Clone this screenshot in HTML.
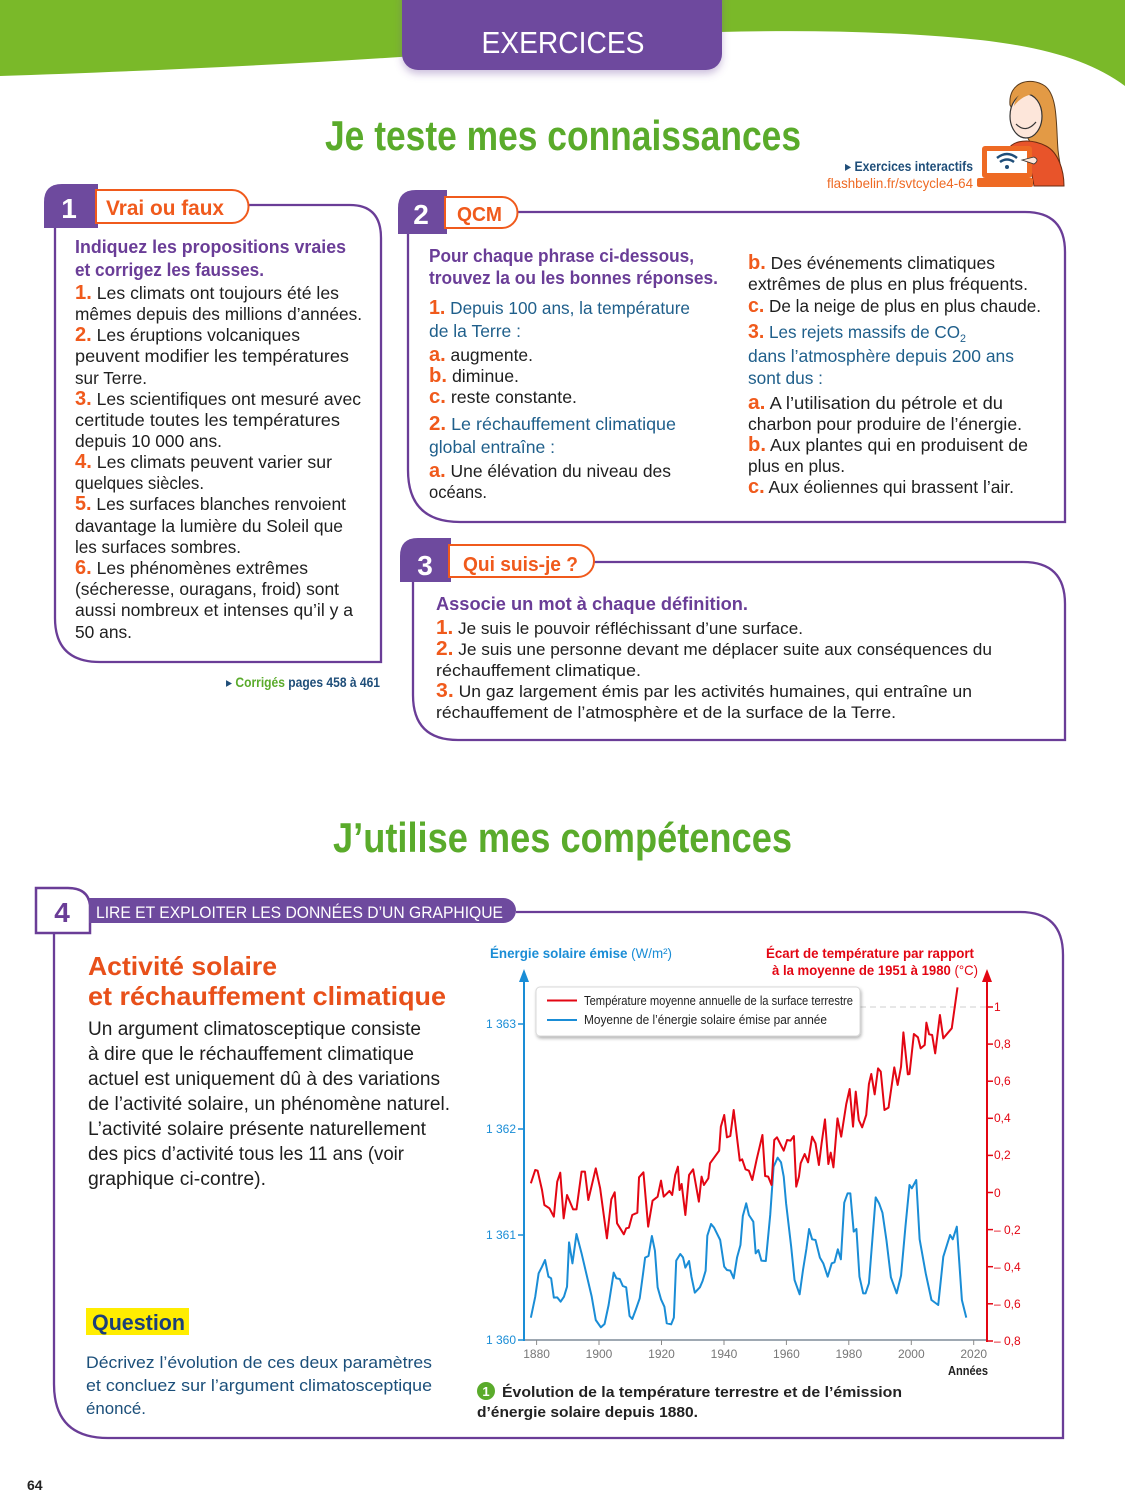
<!DOCTYPE html>
<html><head><meta charset="utf-8">
<style>
html,body{margin:0;padding:0;background:#fff;}
svg{display:block;}
text{font-family:"Liberation Sans","DejaVu Sans",sans-serif;}
.b{font-size:17.5px;fill:#1e1e1e;}
.n{fill:#f05a1c;font-weight:bold;font-size:20px;}
.p{fill:#6a3d97;font-weight:bold;font-size:18.5px;}
.q{fill:#1f5f8b;font-size:17.5px;}
.c{font-size:16.5px;fill:#1e1e1e;}
.t4{font-size:19px;fill:#1e1e1e;}
.lg{font-size:12.5px;fill:#222;}
.yl{font-size:12px;fill:#777;}
.ll{font-size:12px;fill:#1a8dd6;}
.rl{font-size:12px;fill:#e30613;}
</style></head>
<body>
<svg width="1125" height="1500" viewBox="0 0 1125 1500" xmlns="http://www.w3.org/2000/svg">
<defs>
<filter id="sh" x="-20%" y="-20%" width="140%" height="160%">
<feDropShadow dx="0" dy="4" stdDeviation="4" flood-color="#6e4a9e" flood-opacity="0.35"/>
</filter>
<filter id="sh2" x="-10%" y="-20%" width="120%" height="160%">
<feDropShadow dx="1" dy="2" stdDeviation="1.5" flood-color="#000" flood-opacity="0.3"/>
</filter>
</defs>

<!-- green header -->
<path d="M0,0 H1125 V86 C1090,60 1040,45 960,38 C880,31 800,30 720,32 L400,57 C260,66 120,72 0,76 Z" fill="#7ab929"/>
<!-- purple tab -->
<rect x="402" y="-20" width="320" height="90" rx="16" fill="#6e4a9e" filter="url(#sh)"/>
<text x="563" y="53" text-anchor="middle" font-size="31" fill="#fff" textLength="163" lengthAdjust="spacingAndGlyphs">EXERCICES</text>

<!-- title 1 -->
<text x="325" y="150" font-size="42" font-weight="bold" fill="#5aab2b" textLength="476" lengthAdjust="spacingAndGlyphs">Je teste mes connaissances</text>

<!-- interactive -->
<text x="973" y="171" text-anchor="end" font-size="14" font-weight="bold" fill="#1f4e79" textLength="128" lengthAdjust="spacingAndGlyphs">▸ Exercices interactifs</text>
<text x="973" y="188" text-anchor="end" font-size="14" fill="#ee6a24" textLength="146" lengthAdjust="spacingAndGlyphs">flashbelin.fr/svtcycle4-64</text>

<!-- girl illustration -->
<path d="M1010,105 C1008,82 1030,76 1045,86 C1058,96 1056,125 1058,150 C1060,168 1064,178 1060,184 L1040,184 C1042,160 1040,140 1030,142 Z" fill="#e39a45" stroke="#5a3a1a" stroke-width="1"/>
<ellipse cx="1026" cy="116" rx="16" ry="22" fill="#fde6da" stroke="#333" stroke-width="1.2"/>
<path d="M1014,106 C1016,90 1036,84 1046,96 C1040,92 1024,92 1014,106 Z" fill="#e39a45"/>
<path d="M1016,124 Q1026,134 1036,122" fill="none" stroke="#333" stroke-width="1.2"/>
<path d="M1008,150 C1012,140 1030,138 1046,146 C1058,152 1064,170 1064,186 L1034,186 L1030,165 Z" fill="#e8542a" stroke="#6a2a10" stroke-width="1"/>
<rect x="982" y="146" width="50" height="32" rx="3" fill="#ee6a24"/>
<rect x="987" y="151" width="40" height="22" fill="#fff"/>
<rect x="977" y="178" width="56" height="9" rx="2" fill="#ee6a24"/>
<path d="M997,158 Q1007,150 1017,158" fill="none" stroke="#1f4e79" stroke-width="2.5"/>
<path d="M1000,162 Q1007,157 1014,162" fill="none" stroke="#1f4e79" stroke-width="2.5"/>
<circle cx="1007" cy="167" r="2" fill="#1f4e79"/>
<path d="M1022,160 L1034,157 Q1040,160 1034,164 Z" fill="#fde6da" stroke="#333" stroke-width="0.8"/>

<!-- BOX 1 -->
<path d="M248,205 H350 Q381,205 381,238 V662 H100 Q55,662 55,618 V228" fill="none" stroke="#6a3d97" stroke-width="2.3"/>
<path d="M44,228 V202 Q44,184 62,184 H98 V228 Z" fill="#6e4a9e"/>
<path d="M96,190 H232 A16.5,16.5 0 0 1 232,223 H96 Z" fill="#fff" stroke="#f05a1c" stroke-width="2"/>
<text x="69" y="218" text-anchor="middle" font-size="28" font-weight="bold" fill="#fff">1</text>
<text x="106" y="215" font-size="21" font-weight="bold" fill="#f05a1c" textLength="118" lengthAdjust="spacingAndGlyphs">Vrai ou faux</text>

<text x="75" y="253" class="p" textLength="271" lengthAdjust="spacingAndGlyphs">Indiquez les propositions vraies</text>
<text x="75" y="276" class="p" textLength="189" lengthAdjust="spacingAndGlyphs">et corrigez les fausses.</text>
<text x="75" y="299" class="b" textLength="264" lengthAdjust="spacingAndGlyphs"><tspan class="n">1.</tspan> Les climats ont toujours été les</text>
<text x="75" y="320" class="b" textLength="287" lengthAdjust="spacingAndGlyphs">mêmes depuis des millions d’années.</text>
<text x="75" y="341" class="b" textLength="225" lengthAdjust="spacingAndGlyphs"><tspan class="n">2.</tspan> Les éruptions volcaniques</text>
<text x="75" y="362" class="b" textLength="274" lengthAdjust="spacingAndGlyphs">peuvent modifier les températures</text>
<text x="75" y="384" class="b" textLength="72" lengthAdjust="spacingAndGlyphs">sur Terre.</text>
<text x="75" y="405" class="b" textLength="286" lengthAdjust="spacingAndGlyphs"><tspan class="n">3.</tspan> Les scientifiques ont mesuré avec</text>
<text x="75" y="426" class="b" textLength="265" lengthAdjust="spacingAndGlyphs">certitude toutes les températures</text>
<text x="75" y="447" class="b" textLength="147" lengthAdjust="spacingAndGlyphs">depuis 10 000 ans.</text>
<text x="75" y="468" class="b" textLength="257" lengthAdjust="spacingAndGlyphs"><tspan class="n">4.</tspan> Les climats peuvent varier sur</text>
<text x="75" y="489" class="b" textLength="129" lengthAdjust="spacingAndGlyphs">quelques siècles.</text>
<text x="75" y="510" class="b" textLength="271" lengthAdjust="spacingAndGlyphs"><tspan class="n">5.</tspan> Les surfaces blanches renvoient</text>
<text x="75" y="532" class="b" textLength="268" lengthAdjust="spacingAndGlyphs">davantage la lumière du Soleil que</text>
<text x="75" y="553" class="b" textLength="166" lengthAdjust="spacingAndGlyphs">les surfaces sombres.</text>
<text x="75" y="574" class="b" textLength="233" lengthAdjust="spacingAndGlyphs"><tspan class="n">6.</tspan> Les phénomènes extrêmes</text>
<text x="75" y="595" class="b" textLength="264" lengthAdjust="spacingAndGlyphs">(sécheresse, ouragans, froid) sont</text>
<text x="75" y="616" class="b" textLength="278" lengthAdjust="spacingAndGlyphs">aussi nombreux et intenses qu’il y a</text>
<text x="75" y="638" class="b" textLength="57" lengthAdjust="spacingAndGlyphs">50 ans.</text>

<text x="226" y="687" font-size="13.5" font-weight="bold" fill="#1f4e79" textLength="154" lengthAdjust="spacingAndGlyphs">▸ <tspan fill="#5aab2b">Corrigés</tspan> pages 458 à 461</text>

<!-- BOX 2 -->
<path d="M517,212 H1025 Q1065,212 1065,252 V522 H460 Q408,522 408,470 V234" fill="none" stroke="#6a3d97" stroke-width="2.3"/>
<path d="M398,234 V208 Q398,190 416,190 H447 V234 Z" fill="#6e4a9e"/>
<path d="M445,197 H502 A15.5,15.5 0 0 1 502,228 H445 Z" fill="#fff" stroke="#f05a1c" stroke-width="2"/>
<text x="421" y="224" text-anchor="middle" font-size="28" font-weight="bold" fill="#fff">2</text>
<text x="457" y="221" font-size="20" font-weight="bold" fill="#f05a1c" textLength="45" lengthAdjust="spacingAndGlyphs">QCM</text>

<text x="429" y="262" class="p" textLength="265" lengthAdjust="spacingAndGlyphs">Pour chaque phrase ci-dessous,</text>
<text x="429" y="284" class="p" textLength="289" lengthAdjust="spacingAndGlyphs">trouvez la ou les bonnes réponses.</text>
<text x="429" y="314" class="q" textLength="261" lengthAdjust="spacingAndGlyphs"><tspan class="n">1.</tspan> Depuis 100 ans, la température</text>
<text x="429" y="337" class="q" textLength="92" lengthAdjust="spacingAndGlyphs">de la Terre :</text>
<text x="429" y="361" class="b" textLength="104" lengthAdjust="spacingAndGlyphs"><tspan class="n">a.</tspan> augmente.</text>
<text x="429" y="382" class="b" textLength="90" lengthAdjust="spacingAndGlyphs"><tspan class="n">b.</tspan> diminue.</text>
<text x="429" y="403" class="b" textLength="148" lengthAdjust="spacingAndGlyphs"><tspan class="n">c.</tspan> reste constante.</text>
<text x="429" y="430" class="q" textLength="247" lengthAdjust="spacingAndGlyphs"><tspan class="n">2.</tspan> Le réchauffement climatique</text>
<text x="429" y="453" class="q" textLength="126" lengthAdjust="spacingAndGlyphs">global entraîne :</text>
<text x="429" y="477" class="b" textLength="242" lengthAdjust="spacingAndGlyphs"><tspan class="n">a.</tspan> Une élévation du niveau des</text>
<text x="429" y="498" class="b" textLength="58" lengthAdjust="spacingAndGlyphs">océans.</text>

<text x="748" y="269" class="b" textLength="247" lengthAdjust="spacingAndGlyphs"><tspan class="n">b.</tspan> Des événements climatiques</text>
<text x="748" y="290" class="b" textLength="280" lengthAdjust="spacingAndGlyphs">extrêmes de plus en plus fréquents.</text>
<text x="748" y="312" class="b" textLength="293" lengthAdjust="spacingAndGlyphs"><tspan class="n">c.</tspan> De la neige de plus en plus chaude.</text>
<text x="748" y="338" class="q" textLength="218" lengthAdjust="spacingAndGlyphs"><tspan class="n">3.</tspan> Les rejets massifs de CO<tspan font-size="11" dy="4">2</tspan></text>
<text x="748" y="362" class="q" textLength="266" lengthAdjust="spacingAndGlyphs">dans l’atmosphère depuis 200 ans</text>
<text x="748" y="384" class="q" textLength="75" lengthAdjust="spacingAndGlyphs">sont dus :</text>
<text x="748" y="409" class="b" textLength="255" lengthAdjust="spacingAndGlyphs"><tspan class="n">a.</tspan> A l’utilisation du pétrole et du</text>
<text x="748" y="430" class="b" textLength="274" lengthAdjust="spacingAndGlyphs">charbon pour produire de l’énergie.</text>
<text x="748" y="451" class="b" textLength="280" lengthAdjust="spacingAndGlyphs"><tspan class="n">b.</tspan> Aux plantes qui en produisent de</text>
<text x="748" y="472" class="b" textLength="97" lengthAdjust="spacingAndGlyphs">plus en plus.</text>
<text x="748" y="493" class="b" textLength="266" lengthAdjust="spacingAndGlyphs"><tspan class="n">c.</tspan> Aux éoliennes qui brassent l’air.</text>

<!-- BOX 3 -->
<path d="M592,562 H1023 Q1065,562 1065,604 V740 H458 Q413,740 413,695 V582" fill="none" stroke="#6a3d97" stroke-width="2.3"/>
<path d="M400,582 V556 Q400,538 418,538 H451 V582 Z" fill="#6e4a9e"/>
<path d="M449,545 H578 A16,16 0 0 1 578,577 H449 Z" fill="#fff" stroke="#f05a1c" stroke-width="2"/>
<text x="425" y="575" text-anchor="middle" font-size="28" font-weight="bold" fill="#fff">3</text>
<text x="463" y="571" font-size="20" font-weight="bold" fill="#f05a1c" textLength="115" lengthAdjust="spacingAndGlyphs">Qui suis-je ?</text>

<text x="436" y="610" class="p" textLength="312" lengthAdjust="spacingAndGlyphs">Associe un mot à chaque définition.</text>
<text x="436" y="634" class="c" textLength="367" lengthAdjust="spacingAndGlyphs"><tspan class="n">1.</tspan> Je suis le pouvoir réfléchissant d’une surface.</text>
<text x="436" y="655" class="c" textLength="556" lengthAdjust="spacingAndGlyphs"><tspan class="n">2.</tspan> Je suis une personne devant me déplacer suite aux conséquences du</text>
<text x="436" y="676" class="c" textLength="205" lengthAdjust="spacingAndGlyphs">réchauffement climatique.</text>
<text x="436" y="697" class="c" textLength="536" lengthAdjust="spacingAndGlyphs"><tspan class="n">3.</tspan> Un gaz largement émis par les activités humaines, qui entraîne un</text>
<text x="436" y="718" class="c" textLength="460" lengthAdjust="spacingAndGlyphs">réchauffement de l’atmosphère et de la surface de la Terre.</text>

<!-- title 2 -->
<text x="333" y="852" font-size="42" font-weight="bold" fill="#5aab2b" textLength="459" lengthAdjust="spacingAndGlyphs">J’utilise mes compétences</text>

<!-- BOX 4 -->
<path d="M516,912 H1020 Q1063,912 1063,955 V1438 H108 Q54,1438 54,1384 V933" fill="none" stroke="#6a3d97" stroke-width="2.3"/>
<path d="M36,933 V888 H68 Q88,888 90,905 V933 Z" fill="#fff" stroke="#6a3d97" stroke-width="2.5"/>
<path d="M89,898 H503.5 A12.5,12.5 0 0 1 503.5,923 H89 Z" fill="#6e4a9e"/>
<text x="62" y="922" text-anchor="middle" font-size="28" font-weight="bold" fill="#6a3d97">4</text>
<text x="96" y="918" font-size="17" fill="#fff" textLength="407" lengthAdjust="spacingAndGlyphs">LIRE ET EXPLOITER LES DONNÉES D’UN GRAPHIQUE</text>

<text x="88" y="975" font-size="26" font-weight="bold" fill="#e8501a" textLength="189" lengthAdjust="spacingAndGlyphs">Activité solaire</text>
<text x="88" y="1005" font-size="26" font-weight="bold" fill="#e8501a" textLength="358" lengthAdjust="spacingAndGlyphs">et réchauffement climatique</text>
<text x="88" y="1035" class="t4" textLength="333" lengthAdjust="spacingAndGlyphs">Un argument climatosceptique consiste</text>
<text x="88" y="1060" class="t4" textLength="326" lengthAdjust="spacingAndGlyphs">à dire que le réchauffement climatique</text>
<text x="88" y="1085" class="t4" textLength="352" lengthAdjust="spacingAndGlyphs">actuel est uniquement dû à des variations</text>
<text x="88" y="1110" class="t4" textLength="362" lengthAdjust="spacingAndGlyphs">de l’activité solaire, un phénomène naturel.</text>
<text x="88" y="1135" class="t4" textLength="338" lengthAdjust="spacingAndGlyphs">L’activité solaire présente naturellement</text>
<text x="88" y="1160" class="t4" textLength="316" lengthAdjust="spacingAndGlyphs">des pics d’activité tous les 11 ans (voir</text>
<text x="88" y="1185" class="t4" textLength="178" lengthAdjust="spacingAndGlyphs">graphique ci-contre).</text>

<rect x="86" y="1308" width="103" height="27" fill="#ffed00"/>
<text x="92" y="1330" font-size="22" font-weight="bold" fill="#1b3f7a" textLength="93" lengthAdjust="spacingAndGlyphs">Question</text>
<text x="86" y="1368" font-size="17" fill="#1b4f7a" textLength="346" lengthAdjust="spacingAndGlyphs">Décrivez l’évolution de ces deux paramètres</text>
<text x="86" y="1391" font-size="17" fill="#1b4f7a" textLength="346" lengthAdjust="spacingAndGlyphs">et concluez sur l’argument climatosceptique</text>
<text x="86" y="1414" font-size="17" fill="#1b4f7a" textLength="60" lengthAdjust="spacingAndGlyphs">énoncé.</text>

<!-- CHART -->
<text x="490" y="958" font-size="14" fill="#1a8dd6" textLength="182" lengthAdjust="spacingAndGlyphs"><tspan font-weight="bold">Énergie solaire émise</tspan> (W/m²)</text>
<text x="974" y="958" text-anchor="end" font-size="14" font-weight="bold" fill="#e30613" textLength="208" lengthAdjust="spacingAndGlyphs">Écart de température par rapport</text>
<text x="772" y="975" font-size="14" fill="#e30613" textLength="206" lengthAdjust="spacingAndGlyphs"><tspan font-weight="bold">à la moyenne de 1951 à 1980</tspan> (°C)</text>

<!-- dashed ref line -->
<line x1="860" y1="1007" x2="987" y2="1007" stroke="#cfcfcf" stroke-width="1" stroke-dasharray="6 4"/>

<!-- bottom axis -->
<line x1="524" y1="1340" x2="987" y2="1340" stroke="#7f8c99" stroke-width="1.5"/>
<g stroke="#8a8a8a" stroke-width="1">
<line x1="536.6" y1="1340" x2="536.6" y2="1345"/>
<line x1="599" y1="1340" x2="599" y2="1345"/>
<line x1="661.5" y1="1340" x2="661.5" y2="1345"/>
<line x1="724" y1="1340" x2="724" y2="1345"/>
<line x1="786.4" y1="1340" x2="786.4" y2="1345"/>
<line x1="848.8" y1="1340" x2="848.8" y2="1345"/>
<line x1="911.3" y1="1340" x2="911.3" y2="1345"/>
<line x1="973.7" y1="1340" x2="973.7" y2="1345"/>
</g>
<g class="yl" text-anchor="middle">
<text x="536.6" y="1358" class="yl">1880</text>
<text x="599" y="1358" class="yl">1900</text>
<text x="661.5" y="1358" class="yl">1920</text>
<text x="724" y="1358" class="yl">1940</text>
<text x="786.4" y="1358" class="yl">1960</text>
<text x="848.8" y="1358" class="yl">1980</text>
<text x="911.3" y="1358" class="yl">2000</text>
<text x="973.7" y="1358" class="yl">2020</text>
</g>
<text x="948" y="1375" font-size="12.5" font-weight="bold" fill="#222" textLength="40" lengthAdjust="spacingAndGlyphs">Années</text>

<!-- left axis -->
<line x1="524" y1="978" x2="524" y2="1341" stroke="#1a8dd6" stroke-width="2"/>
<path d="M519,982 L529,982 L524,969 Z" fill="#1a8dd6"/>
<g stroke="#1a8dd6" stroke-width="1.5">
<line x1="518" y1="1024" x2="524" y2="1024"/>
<line x1="518" y1="1129" x2="524" y2="1129"/>
<line x1="518" y1="1235" x2="524" y2="1235"/>
<line x1="518" y1="1340" x2="524" y2="1340"/>
</g>
<g text-anchor="end">
<text x="516" y="1028" class="ll">1 363</text>
<text x="516" y="1133" class="ll">1 362</text>
<text x="516" y="1239" class="ll">1 361</text>
<text x="516" y="1344" class="ll">1 360</text>
</g>

<!-- right axis -->
<line x1="987" y1="978" x2="987" y2="1342" stroke="#e30613" stroke-width="2"/>
<path d="M982,982 L992,982 L987,969 Z" fill="#e30613"/>
<g stroke="#e30613" stroke-width="1.5">
<line x1="987" y1="1007" x2="993" y2="1007"/>
<line x1="987" y1="1044.1" x2="993" y2="1044.1"/>
<line x1="987" y1="1081.2" x2="993" y2="1081.2"/>
<line x1="987" y1="1118.3" x2="993" y2="1118.3"/>
<line x1="987" y1="1155.4" x2="993" y2="1155.4"/>
<line x1="987" y1="1192.5" x2="993" y2="1192.5"/>
<line x1="987" y1="1229.6" x2="993" y2="1229.6"/>
<line x1="987" y1="1266.7" x2="993" y2="1266.7"/>
<line x1="987" y1="1303.8" x2="993" y2="1303.8"/>
<line x1="987" y1="1341" x2="993" y2="1341"/>
</g>
<text x="994" y="1011" class="rl">1</text>
<text x="994" y="1048" class="rl">0,8</text>
<text x="994" y="1085" class="rl">0,6</text>
<text x="994" y="1122" class="rl">0,4</text>
<text x="994" y="1159" class="rl">0,2</text>
<text x="994" y="1197" class="rl">0</text>
<text x="994" y="1234" class="rl">– 0,2</text>
<text x="994" y="1271" class="rl">– 0,4</text>
<text x="994" y="1308" class="rl">– 0,6</text>
<text x="994" y="1345" class="rl">– 0,8</text>

<!-- series -->
<g transform="matrix(0.33807,0,0,0.33333,470,930)" fill="none" stroke-linejoin="round">
<polyline vector-effect="non-scaling-stroke" stroke="#1a8dd6" stroke-width="2" points="180,1163 193,1100 203,1030 213,1010 222,990 232,1040 240,1045 248,1103 258,1102 268,1115 278,1100 287,1070 293,937 303,1000 315,912 330,970 345,1035 360,1100 372,1170 387,1192 398,1182 410,1125 425,1028 433,1045 443,1047 452,1068 462,1072 472,1158 480,1167 490,1140 502,1105 512,1030 518,983 528,978 538,918 547,962 555,1072 565,1108 575,1130 582,1180 595,1183 603,1163 610,992 622,972 630,982 637,1013 648,993 655,1040 665,1088 680,1072 688,1053 697,1022 702,917 713,882 722,893 740,930 752,1010 760,1020 770,1022 780,1045 790,982 800,945 807,858 817,820 825,855 838,875 845,970 853,960 862,992 875,993 888,855 898,710 910,683 920,697 928,740 935,820 950,950 960,1050 975,1093 985,1020 995,957 1003,897 1012,928 1022,930 1035,983 1045,1000 1058,1040 1070,1000 1078,997 1088,958 1097,988 1107,818 1117,790 1125,790 1135,905 1143,897 1152,1040 1163,1090 1170,1090 1180,1060 1200,802 1210,820 1220,848 1232,932 1245,1042 1262,1090 1275,1037 1288,890 1300,765 1307,775 1320,750 1330,928 1348,1030 1365,1110 1385,1125 1400,980 1420,915 1428,928 1440,890 1455,1110 1468,1163"/>
<polyline vector-effect="non-scaling-stroke" stroke="#e30613" stroke-width="2" points="180,760 193,720 200,722 213,780 220,825 235,835 248,860 258,755 267,728 277,865 287,795 305,838 315,838 330,725 340,725 350,810 372,715 385,775 405,925 418,808 428,787 435,880 455,913 462,895 470,893 480,855 495,848 500,742 513,727 527,890 540,812 555,800 565,752 573,800 590,783 598,795 607,735 615,710 620,780 626,762 637,855 648,735 660,718 677,815 685,740 692,765 705,745 710,700 737,662 742,590 752,555 760,622 770,618 780,540 798,692 805,688 815,718 825,722 835,750 848,688 865,615 873,738 882,740 892,765 900,630 908,622 928,662 938,630 948,632 958,618 965,770 973,740 978,700 990,672 1000,697 1012,620 1022,640 1032,705 1040,640 1050,568 1060,702 1067,668 1075,712 1087,565 1098,620 1113,522 1123,477 1133,590 1141,485 1150,570 1160,592 1172,555 1180,462 1187,432 1197,493 1207,415 1215,425 1226,540 1238,533 1255,412 1265,465 1275,410 1282,307 1295,433 1300,432 1313,312 1325,322 1333,355 1345,345 1350,278 1358,313 1367,315 1376,370 1390,255 1400,325 1425,295 1442,172"/>
</g>

<!-- legend -->
<rect x="536" y="987" width="324" height="49" rx="4" fill="#fff" stroke="#d8d8d8" stroke-width="1" filter="url(#sh2)"/>
<line x1="547" y1="1000.5" x2="577" y2="1000.5" stroke="#e30613" stroke-width="2"/>
<line x1="547" y1="1020" x2="577" y2="1020" stroke="#1a8dd6" stroke-width="2"/>
<text x="584" y="1005" class="lg" textLength="269" lengthAdjust="spacingAndGlyphs">Température moyenne annuelle de la surface terrestre</text>
<text x="584" y="1024" class="lg" textLength="243" lengthAdjust="spacingAndGlyphs">Moyenne de l’énergie solaire émise par année</text>

<!-- caption -->
<circle cx="486" cy="1391" r="9" fill="#5aab2b"/>
<text x="486" y="1396" text-anchor="middle" font-size="13" font-weight="bold" fill="#fff">1</text>
<text x="502" y="1397" font-size="15" font-weight="bold" fill="#222" textLength="400" lengthAdjust="spacingAndGlyphs">Évolution de la température terrestre et de l’émission</text>
<text x="477" y="1417" font-size="15" font-weight="bold" fill="#222" textLength="221" lengthAdjust="spacingAndGlyphs">d’énergie solaire depuis 1880.</text>

<!-- page number -->
<text x="27" y="1490" font-size="14" font-weight="bold" fill="#222">64</text>
</svg>
</body></html>
